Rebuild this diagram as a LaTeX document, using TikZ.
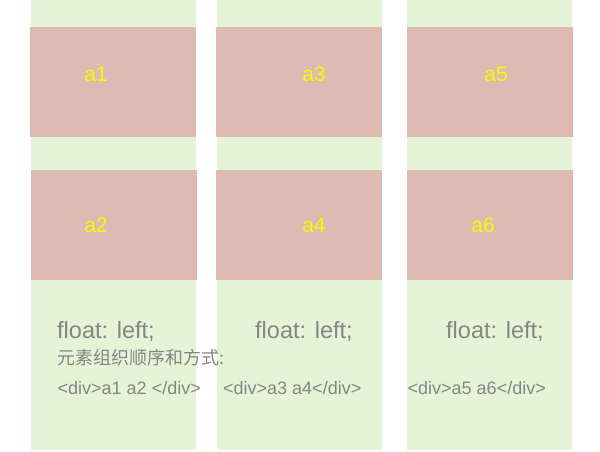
\documentclass[tikz,border=0pt]{standalone}
\usepackage{fontspec}
\setmainfont{Liberation Sans}
\newfontfamily\cjk{Noto Sans CJK SC}
\definecolor{colgreen}{HTML}{E5F3D6}
\definecolor{boxpink}{HTML}{DFB9B4}
\definecolor{lblyellow}{HTML}{EEFF00}
\definecolor{txtgray}{HTML}{858585}
\begin{document}
\begin{tikzpicture}[x=1pt,y=-1pt,
  colbox/.style={fill=colgreen, draw=none, inner sep=0pt, minimum width=165pt, minimum height=450pt, anchor=north west},
  pinkbox/.style={fill=boxpink, draw=none, inner sep=0pt, minimum width=166pt, minimum height=110pt, anchor=north west},
  lbl/.style={text=lblyellow, inner sep=0pt, font=\fontsize{21}{21}\selectfont},
  floattxt/.style={text=txtgray, inner sep=0pt, anchor=base west, font=\fontsize{23.5}{23.5}\selectfont},
  cjktxt/.style={text=txtgray, inner sep=0pt, anchor=base west, font=\cjk\fontsize{18}{18}\selectfont},
  divtxt/.style={text=txtgray, inner sep=0pt, anchor=base west, font=\fontsize{18}{18}\selectfont}]
\useasboundingbox (0,0) rectangle (600,452);
% columns
\node[colbox] (c1) at (31,0) {};
\node[colbox] (c2) at (217,0) {};
\node[colbox] (c3) at (407,0) {};
% pink boxes
\node[pinkbox] (p1) at (30,27) {};
\node[pinkbox] (p2) at (31,170) {};
\node[pinkbox] (p3) at (216,27) {};
\node[pinkbox] (p4) at (216,170) {};
\node[pinkbox] (p5) at (407,27) {};
\node[pinkbox] (p6) at (407,170) {};
% labels
\node[lbl] (l1) at (96,74) {a1};
\node[lbl] (l2) at (96,225) {a2};
\node[lbl] (l3) at (314,74) {a3};
\node[lbl] (l4) at (314,225) {a4};
\node[lbl] (l5) at (496,74) {a5};
\node[lbl] (l6) at (483,225) {a6};
% texts
\node[floattxt] (f1) at (57,338) {float: left;};
\node[floattxt] (f2) at (255,338) {float: left;};
\node[floattxt] (f3) at (446,338) {float: left;};
\node[cjktxt] (z1) at (57,364) {元素组织顺序和方式:};
\node[divtxt] (d1) at (57.5,394) {<div>a1 a2 </div>};
\node[divtxt] (d2) at (223,394) {<div>a3 a4</div>};
\node[divtxt] (d3) at (407.5,394) {<div>a5 a6</div>};
\end{tikzpicture}
\end{document}
